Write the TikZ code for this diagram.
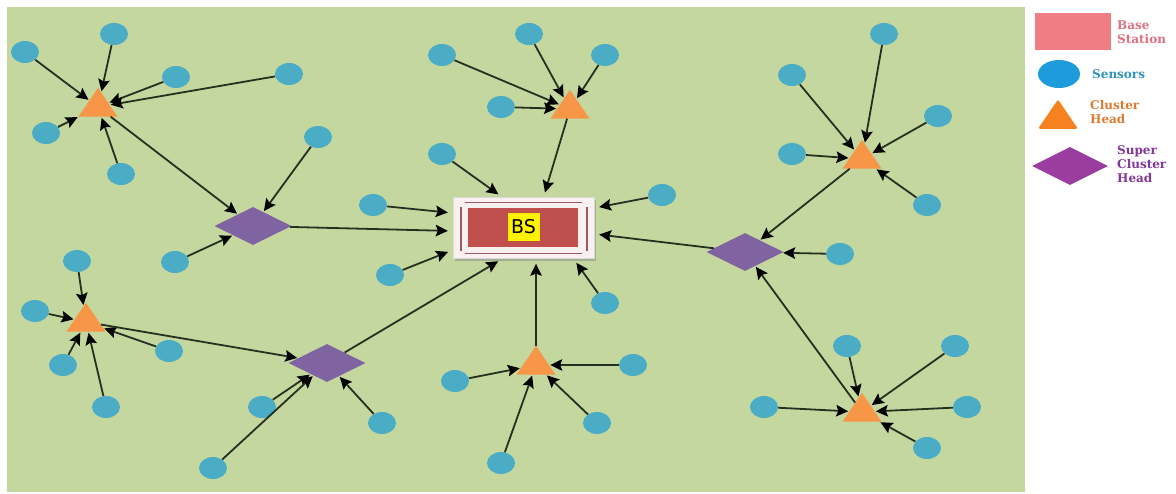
\documentclass[tikz,border=0pt]{standalone}
\usepackage{fontspec}
\setmainfont{DejaVu Serif}
\newfontfamily\bsfont{DejaVu Sans}
\usetikzlibrary{arrows.meta,shapes.geometric,shadows}

% palette
\definecolor{field}{HTML}{C4D79F}
\definecolor{sensorblue}{HTML}{4BACC6}
\definecolor{headorange}{HTML}{F79646}
\definecolor{superpurple}{HTML}{8064A2}
\definecolor{bsred}{HTML}{C0504D}
\definecolor{bsframe}{HTML}{FBF0F0}
\definecolor{bsline}{HTML}{9E5A68}
\definecolor{linkcol}{HTML}{263020}
\definecolor{keypink}{HTML}{F07C84}
\definecolor{keyblue}{HTML}{1E9BDA}
\definecolor{keyorange}{HTML}{F5821F}
\definecolor{keypurple}{HTML}{9B3D9F}
\definecolor{txtpink}{HTML}{E0707E}
\definecolor{txtblue}{HTML}{2E93BE}
\definecolor{txtorange}{HTML}{DD7A30}
\definecolor{txtpurple}{HTML}{84379A}

\begin{document}
\begin{tikzpicture}[x=1pt,y=-1pt,
  sensor/.style={ellipse, fill=sensorblue, minimum width=28pt, minimum height=22pt, inner sep=0pt},
  chead/.style={regular polygon, regular polygon sides=3, fill=headorange,
    minimum size=45pt, inner sep=0pt, yscale=0.85},
  shead/.style={diamond, fill=superpurple, minimum width=77pt, minimum height=38pt, inner sep=0pt},
  link/.style={draw=linkcol, line width=1.8pt,
    -{Stealth[length=12pt,width=11.5pt,inset=2pt,fill=black,color=black]}, shorten >=1pt},
  bslink/.style={link, shorten >=5pt},
  keytext/.style={font=\bfseries\fontsize{12}{13.8}\selectfont, align=left, anchor=base west, inner sep=0pt},
]
\useasboundingbox (0,0) rectangle (1176,493);
\fill[white] (0,0) rectangle (1176,493);
\fill[field] (7,7) rectangle (1025,492);

% ---- base station ----
\node[draw=white!85!black, fill=bsframe, minimum width=141pt, minimum height=61pt, inner sep=0pt,
  drop shadow={shadow xshift=1.5pt, shadow yshift=-2pt, opacity=0.45}] (BS) at (523.5,228) {};
\node[fill=bsred, minimum width=110pt, minimum height=39pt, inner sep=0pt] (BSin) at (523,227.5) {};
\draw[bsline, line width=1.5pt] ([xshift=12pt,yshift=-5pt]BS.north west) -- ([xshift=-12pt,yshift=-5pt]BS.north east);
\draw[bsline, line width=1.5pt] ([xshift=12pt,yshift=5pt]BS.south west) -- ([xshift=-12pt,yshift=5pt]BS.south east);
\draw[bsline, line width=1.5pt] ([xshift=8pt,yshift=-10pt]BS.north west) -- ([xshift=8pt,yshift=8pt]BS.south west);
\draw[bsline, line width=1.5pt] ([xshift=-7pt,yshift=-10pt]BS.north east) -- ([xshift=-7pt,yshift=8pt]BS.south east);
\node[fill=yellow, minimum width=32pt, minimum height=28pt, inner sep=1pt,
  font=\bsfont\fontsize{19}{19}\selectfont] (BSlabel) at (523.5,226.5) {BS};

% ---- super cluster heads ----
\node[shead] (SCH1) at (253,226) {};
\node[shead] (SCH2) at (327,363) {};
\node[shead] (SCH3) at (745,252) {};

% ---- cluster heads ----
\node[chead] (CH1) at (98,107) {};
\node[chead] (CH2) at (570,109) {};
\node[chead] (CH3) at (862,159) {};
\node[chead] (CH4) at (536,365) {};
\node[chead] (CH5) at (862,412) {};
\node[chead] (CH6) at (86,322) {};

% ---- sensors ----
\foreach \n/\x/\y in {a1/25/52, a2/114/34, a3/176/77, a4/289/74, a5/46/133, a6/121/174,
  b1/318/137, b2/175/262,
  c1/442/55, c2/529/34, c3/605/55, c4/501/107,
  d1/442/154, d2/373/205, d3/390/275, d4/662/195, d5/605/303,
  e1/884/34, e2/792/75, e3/938/116, e4/792/154, e5/927/205,
  f1/840/254,
  g1/847/346, g2/955/346, g3/764/407, g4/967/407, g5/927/448,
  h1/77/261, h2/35/311, h3/63/365, h4/169/351, h5/106/407,
  i1/262/407, i2/213/468, i3/382/423,
  j1/455/381, j2/633/365, j3/597/423, j4/501/463}
  \node[sensor] (\n) at (\x,\y) {};

% ---- sensor to head links ----
\foreach \s in {a1,a2,a3,a4,a5,a6} \draw[link] (\s) -- (CH1);
\foreach \s in {c1,c2,c3,c4} \draw[link] (\s) -- (CH2);
\foreach \s in {e1,e2,e3,e4,e5} \draw[link] (\s) -- (CH3);
\foreach \s in {j1,j2,j3,j4} \draw[link] (\s) -- (CH4);
\foreach \s in {g1,g2,g3,g4,g5} \draw[link] (\s) -- (CH5);
\foreach \s in {h1,h2,h3,h4,h5} \draw[link] (\s) -- (CH6);
\foreach \s in {b1,b2} \draw[link] (\s) -- (SCH1);
\foreach \s in {i1,i2,i3} \draw[link] (\s) -- (SCH2);
\draw[link] (f1) -- (SCH3);

% ---- head to super head links ----
\draw[link] (CH1) -- (SCH1);
\draw[link] (CH6) -- (SCH2);
\draw[link] (CH3) -- (SCH3);
\draw[link] (CH5) -- (SCH3);

% ---- links into the base station ----
\draw[bslink] (d1) -- ([xshift=-21pt]BS.north);
\draw[bslink] (CH2) -- ([xshift=20pt]BS.north);
\draw[bslink] (d2) -- ([yshift=15pt]BS.west);
\draw[bslink] (SCH1) -- ([yshift=-3pt]BS.west);
\draw[bslink] (d3) -- ([yshift=-22pt]BS.west);
\draw[bslink] (d4) -- ([yshift=20pt]BS.east);
\draw[bslink] (SCH3) -- ([yshift=-6pt]BS.east);
\draw[bslink] (SCH2) -- ([xshift=-21pt]BS.south);
\draw[bslink] (CH4) -- (BS.south -| CH4);
\draw[bslink] (d5) -- ([xshift=50pt]BS.south);

% ---- key ----
\node[fill=keypink, minimum width=76pt, minimum height=37pt, inner sep=0pt] (kBS) at (1073,31.5) {};
\node[keytext, text=txtpink] (tBS) at (1117,43) {Base\\Station};
\node[ellipse, fill=keyblue, minimum width=42pt, minimum height=28pt, inner sep=0pt] (kS) at (1059,74) {};
\node[keytext, text=txtblue] (tS) at (1092,78) {Sensors};
\node[regular polygon, regular polygon sides=3, fill=keyorange, rounded corners=2pt,
  minimum size=46pt, inner sep=0pt, yscale=0.85] (kCH) at (1058,119) {};
\node[keytext, text=txtorange] (tCH) at (1090,123) {Cluster\\Head};
\node[diamond, fill=keypurple, minimum width=76pt, minimum height=38pt, inner sep=0pt] (kSCH) at (1070,166) {};
\node[keytext, text=txtpurple] (tSCH) at (1117,182) {Super\\Cluster\\Head};
\end{tikzpicture}
\end{document}
